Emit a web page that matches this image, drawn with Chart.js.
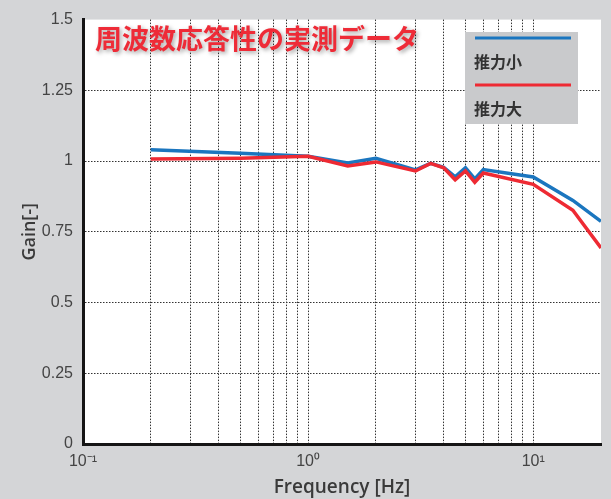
<!DOCTYPE html>
<html>
<head>
<meta charset="utf-8">
<script src="https://cdn.jsdelivr.net/npm/chart.js@4/dist/chart.umd.min.js"></script>
<style>
  html, body { margin: 0; padding: 0; background: #d4d5d7; }
  canvas { display: block; }
</style>
</head>
<body>
<canvas id="chart" width="611" height="499"></canvas>
<script>
const freqs = [0.2, 0.5, 1, 1.5, 2, 3, 3.5, 4, 4.5, 5, 5.5, 6, 10, 15, 20];
const gainSmall = [1.04, 1.028, 1.017, 0.993, 1.01, 0.969, 0.992, 0.978, 0.944, 0.976, 0.937, 0.97, 0.944, 0.861, 0.787];
const gainLarge = [1.007, 1.01, 1.017, 0.983, 0.997, 0.965, 0.992, 0.976, 0.934, 0.965, 0.925, 0.958, 0.918, 0.826, 0.693];

const xTicks = [0.1, 0.2, 0.3, 0.4, 0.5, 0.6, 0.7, 0.8, 0.9, 1, 2, 3, 4, 5, 6, 7, 8, 9, 10, 20];
const xTickLabels = { 0.1: "10\u207B\u00B9", 1: "10\u2070", 10: "10\u00B9" };
const yTicks = [0, 0.25, 0.5, 0.75, 1, 1.25, 1.5];

const chartTitle = "周波数応答性の実測データ";
const labelSmall = "推力小";
const labelLarge = "推力大";
const BLUE = "#1b76bf";
const RED = "#ee2a33";

const toPoints = (ys) => freqs.map((f, i) => ({ x: f, y: ys[i] }));

const backdrop = {
  id: "backdrop",
  beforeDraw(chart) {
    const { ctx, chartArea: a } = chart;
    ctx.save();
    ctx.fillStyle = "#d4d5d7";
    ctx.fillRect(0, 0, chart.width, chart.height);
    ctx.fillStyle = "#ffffff";
    ctx.fillRect(a.left, a.top, a.right - a.left, a.bottom - a.top);
    ctx.restore();
  },
};

const overlay = {
  id: "overlay",
  afterDraw(chart) {
    const { ctx } = chart;
    ctx.save();
    // title inside plot
    ctx.font = "bold 27px 'Noto Sans CJK JP'";
    ctx.textBaseline = "middle";
    ctx.textAlign = "left";
    ctx.shadowColor = "rgba(0,0,0,0.35)";
    ctx.shadowBlur = 4;
    ctx.shadowOffsetX = 2;
    ctx.shadowOffsetY = 2;
    ctx.fillStyle = "#ee2b37";
    ctx.fillText(chartTitle, 95, 39);
    ctx.restore();

    // legend box
    ctx.save();
    ctx.fillStyle = "#c9cacc";
    ctx.fillRect(465, 32, 113, 92);
    const items = [
      { label: labelSmall, color: BLUE, y: 38 },
      { label: labelLarge, color: RED, y: 85 },
    ];
    ctx.lineWidth = 3;
    ctx.font = "bold 16px 'Noto Sans CJK JP'";
    ctx.textBaseline = "middle";
    ctx.fillStyle = "#333";
    items.forEach(({ label, color, y }) => {
      ctx.strokeStyle = color;
      ctx.beginPath();
      ctx.moveTo(475, y);
      ctx.lineTo(571, y);
      ctx.stroke();
      ctx.fillText(label, 474, y + 24);
    });
    ctx.restore();
  },
};

new Chart(document.getElementById("chart"), {
  type: "line",
  data: {
    datasets: [
      {
        label: labelLarge,
        data: toPoints(gainLarge),
        borderColor: RED,
        backgroundColor: RED,
        borderWidth: 3.5,
        pointRadius: 0,
        tension: 0,
      },
      {
        label: labelSmall,
        data: toPoints(gainSmall),
        borderColor: BLUE,
        backgroundColor: BLUE,
        borderWidth: 3.5,
        pointRadius: 0,
        tension: 0,
      },
    ],
  },
  options: {
    responsive: false,
    animation: false,
    devicePixelRatio: 1,
    layout: { padding: { top: 13, right: 10, left: 0, bottom: 0 } },
    plugins: {
      legend: { display: false },
      tooltip: { enabled: false },
    },
    scales: {
      x: {
        type: "logarithmic",
        min: 0.1,
        max: 20,
        afterBuildTicks: (scale) => {
          scale.ticks = xTicks.map((value) => ({ value }));
        },
        afterFit: (scale) => {
          scale.height = 55;
        },
        border: { display: true, color: "#151515", width: 3, dash: [1.5, 1.5] },
        grid: {
          drawTicks: false,
          color: (c) =>
            c.tick && (c.tick.value === 20 || c.tick.value === 0.1) ? "rgba(0,0,0,0)" : "#333",
          lineWidth: 1,
        },
        ticks: {
          autoSkip: false,
          maxRotation: 0,
          padding: 8,
          color: "#444",
          font: { family: "'Liberation Sans'", size: 16 },
          callback: (v) => xTickLabels[v] || "",
        },
        title: {
          display: true,
          text: "Frequency [Hz]",
          color: "#3a3a3a",
          font: { family: "'Open Sans'", size: 19, weight: "600" },
          padding: { top: 0, bottom: 0 },
        },
      },
      y: {
        min: 0,
        max: 1.5,
        afterBuildTicks: (scale) => {
          scale.ticks = yTicks.map((value) => ({ value }));
        },
        afterFit: (scale) => {
          scale.width = 83;
        },
        border: { display: true, color: "#151515", width: 3, dash: [1.5, 1.5] },
        grid: {
          drawTicks: false,
          color: (c) =>
            c.tick && (c.tick.value === 0 || c.tick.value === 1.5) ? "rgba(0,0,0,0)" : "#333",
          lineWidth: 1,
        },
        ticks: {
          padding: 10,
          color: "#444",
          font: { family: "'Liberation Sans'", size: 16 },
          callback: (v) => String(v),
        },
        title: {
          display: true,
          text: "Gain[-]",
          color: "#3a3a3a",
          font: { family: "'Open Sans'", size: 18, weight: "600" },
          padding: { top: 19, bottom: 0 },
        },
      },
    },
  },
  plugins: [backdrop, overlay],
});
</script>
</body>
</html>
